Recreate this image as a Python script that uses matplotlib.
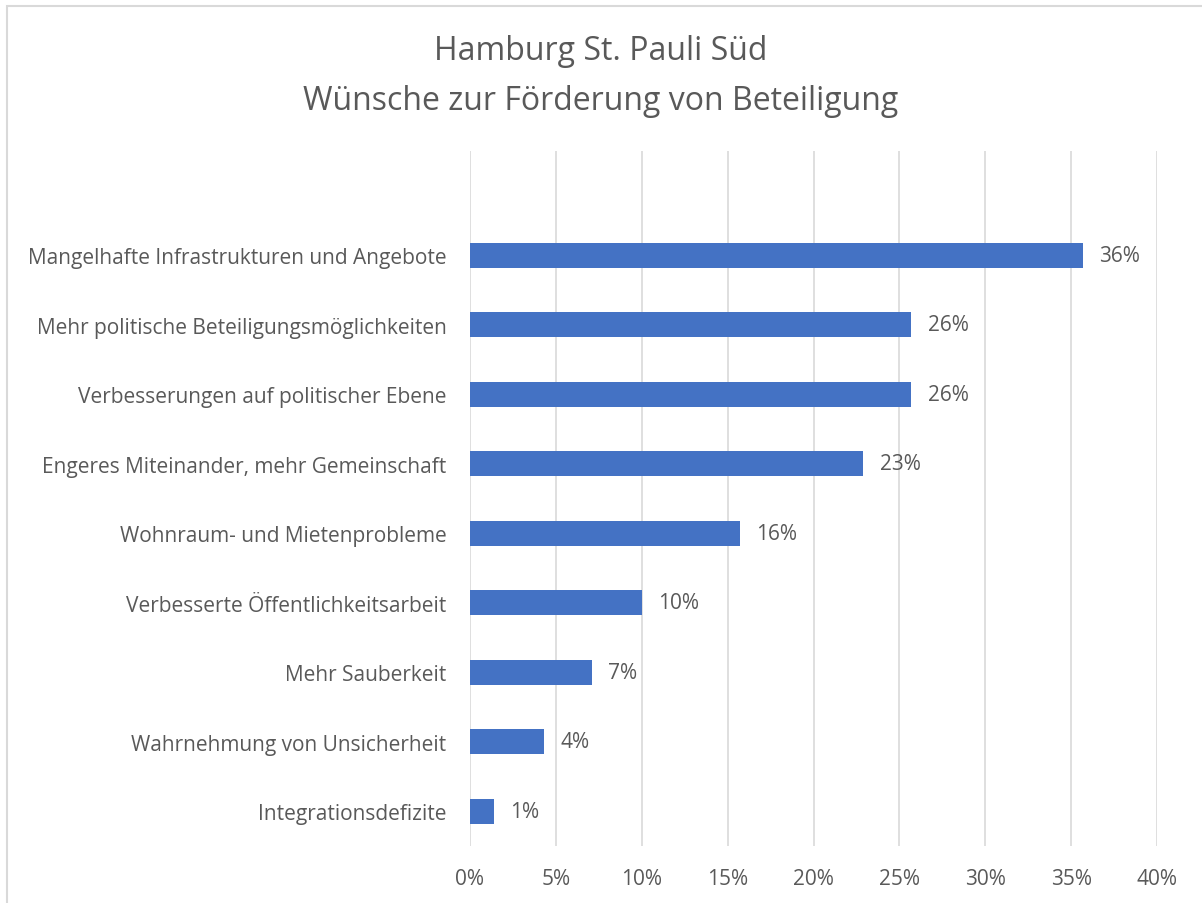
import numpy as np
import matplotlib.pyplot as plt
from matplotlib.patches import Rectangle

# ----- Data -----
categories = [
    "Mangelhafte Infrastrukturen und Angebote",
    "Mehr politische Beteiligungsmöglichkeiten",
    "Verbesserungen auf politischer Ebene",
    "Engeres Miteinander, mehr Gemeinschaft",
    "Wohnraum- und Mietenprobleme",
    "Verbesserte Öffentlichkeitsarbeit",
    "Mehr Sauberkeit",
    "Wahrnehmung von Unsicherheit",
    "Integrationsdefizite",
]
values = [35.7, 25.7, 25.7, 22.9, 15.7, 10.0, 7.1, 4.3, 1.4]
labels = ["36%", "26%", "26%", "23%", "16%", "10%", "7%", "4%", "1%"]
ticks = [0, 5, 10, 15, 20, 25, 30, 35, 40]

plt.rcParams['font.family'] = ['Open Sans', 'DejaVu Sans']
text_color = '#595959'

fig = plt.figure(figsize=(12.02, 9.04), dpi=100)
fig.patches.append(Rectangle((7 / 1202, -0.01), 1.2, (904 - 7) / 904 + 0.01,
                             transform=fig.transFigure, fill=False,
                             edgecolor='#D9D9D9', lw=1.5))

ax = fig.add_axes([470 / 1202, 57 / 904, 687 / 1202, 695 / 904])

y = np.arange(len(categories))[::-1]
ax.barh(y, values, height=0.36, color='#4472C4', zorder=3)
for yi, v, lab in zip(y, values, labels):
    ax.text(v + 0.95, yi, lab, va='center', ha='left', fontsize=15, color=text_color)

ax.set_xlim(0, 40)
ax.set_ylim(-0.5, len(categories) + 0.5)
ax.set_xticks(ticks)
ax.set_xticklabels([f"{t}%" for t in ticks])
ax.set_yticks(y)
ax.set_yticklabels(categories)
ax.tick_params(axis='both', length=0, labelsize=15, labelcolor=text_color)
ax.tick_params(axis='x', pad=16)
ax.tick_params(axis='y', pad=17)
ax.grid(axis='x', color='#D9D9D9', lw=1.2, zorder=0)
for s in ax.spines.values():
    s.set_visible(False)

fig.text(0.5, 1 - 52 / 904, "Hamburg St. Pauli Süd", ha='center', va='center',
         fontsize=23, color=text_color)
fig.text(0.5, 1 - 102 / 904, "Wünsche zur Förderung von Beteiligung", ha='center',
         va='center', fontsize=23, color=text_color)

fig.savefig("out.png", dpi=100)
